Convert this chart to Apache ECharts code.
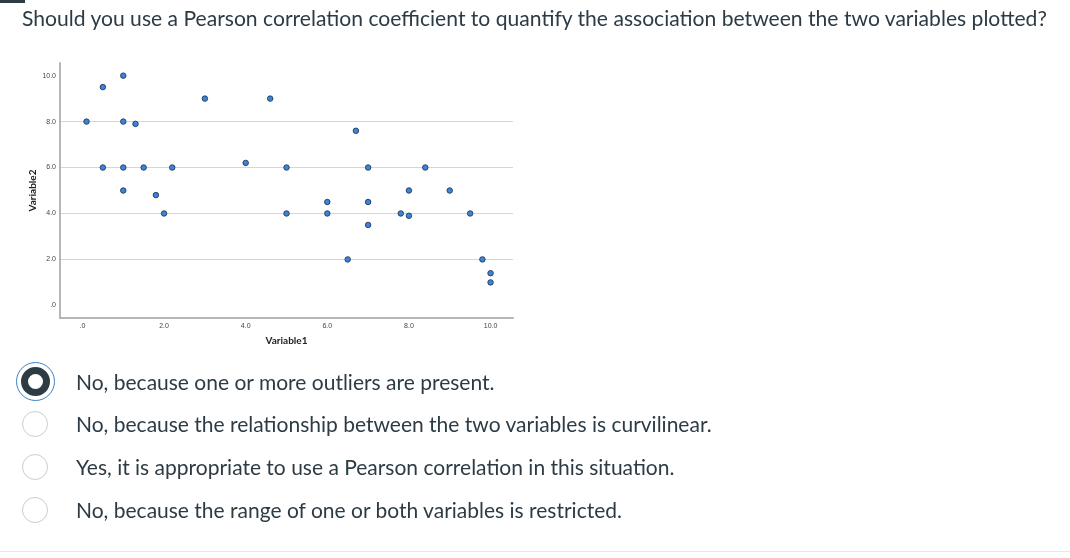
<!DOCTYPE html>
<html>
<head>
<meta charset="utf-8">
<script src="https://cdn.jsdelivr.net/npm/echarts@6/dist/echarts.min.js"></script>
<style>
  html, body { margin:0; padding:0; background:#fff; }
  body { width:1070px; height:558px; position:relative; overflow:hidden; font-family: Lato, "Noto Sans", sans-serif; color:#2d3b45; }
  #chart { position:absolute; left:0; top:0; width:1070px; height:558px; }
  .topbar { position:absolute; left:0; top:0; width:25px; height:3px; background:#2d3b45; }
  .question { position:absolute; left:22px; top:4px; font-size:21.1px; line-height:28px; white-space:nowrap; }
  .opt { position:absolute; left:76px; font-size:21px; line-height:26px; white-space:nowrap; }
  .radio { position:absolute; box-sizing:border-box; border-radius:50%; }
  .r-off { width:26px; height:26px; border:1px solid #c7cdd1; background:#fff; }
  .r-sel-outer { width:39px; height:39px; border:1.8px solid #3c82c2; background:#fff; }
  .r-sel-inner { width:29px; height:29px; border:7px solid #2d3b45; background:#fff; }
  .bottomline { position:absolute; left:0; top:551px; width:1070px; height:1px; background:#e6e9eb; }
</style>
</head>
<body>
<div id="chart"></div>
<div class="topbar"></div>
<div class="question">Should you use a Pearson correlation coefficient to quantify the association between the two variables plotted?</div>

<div class="radio r-sel-outer" style="left:15.5px; top:362px;"></div>
<div class="radio r-sel-inner" style="left:20.5px; top:367px;"></div>
<div class="radio r-off" style="left:22px; top:410.5px;"></div>
<div class="radio r-off" style="left:22px; top:453.5px;"></div>
<div class="radio r-off" style="left:22px; top:496.5px;"></div>

<div class="opt" style="top:368.5px;">No, because one or more outliers are present.</div>
<div class="opt" style="top:410.5px;">No, because the relationship between the two variables is curvilinear.</div>
<div class="opt" style="top:453.5px;">Yes, it is appropriate to use a Pearson correlation in this situation.</div>
<div class="opt" style="top:496.5px;">No, because the range of one or both variables is restricted.</div>
<div class="bottomline"></div>

<script>
// Data
const variable1 = [0.1, 0.5, 1.0, 1.0, 1.3, 0.5, 1.0, 1.5, 2.2, 1.0, 1.8, 2.0,
                   3.0, 4.0, 4.6, 5.0, 5.0, 6.7, 7.0, 8.4, 8.0, 9.0, 6.0, 7.0,
                   6.0, 7.8, 8.0, 9.5, 7.0, 6.5, 9.8, 10.0, 10.0];
const variable2 = [8.0, 9.5, 10.0, 8.0, 7.9, 6.0, 6.0, 6.0, 6.0, 5.0, 4.8, 4.0,
                   9.0, 6.2, 9.0, 6.0, 4.0, 7.6, 6.0, 6.0, 5.0, 5.0, 4.5, 4.5,
                   4.0, 4.0, 3.9, 4.0, 3.5, 2.0, 2.0, 1.4, 1.0];
const xTickValues = [0, 2, 4, 6, 8, 10];
const yTickValues = [0, 2, 4, 6, 8, 10];
const xAxisTitle = 'Variable1';
const yAxisTitle = 'Variable2';

const points = variable1.map((x, i) => [x, variable2[i]]);
const fmt = v => (v === 0 ? '.0' : v.toFixed(1));

const chart = echarts.init(document.getElementById('chart'), null, { renderer: 'canvas' });
chart.setOption({
  animation: false,
  grid: { left: 60, top: 63, width: 453, height: 255, containLabel: false },
  xAxis: {
    type: 'value', min: -0.55, max: 10.55,
    name: xAxisTitle, nameLocation: 'middle', nameGap: 18,
    nameTextStyle: { fontFamily: 'Lato', fontWeight: 'bold', fontSize: 10, color: '#222' },
    axisLine: { show: true, onZero: false, lineStyle: { color: '#b6b6b6', width: 2 } },
    axisTick: { show: false, customValues: xTickValues },
    splitLine: { show: false },
    axisLabel: { customValues: xTickValues, formatter: fmt, fontSize: 7, color: '#444', margin: 5, fontFamily: 'Liberation Sans' }
  },
  yAxis: {
    type: 'value', min: -0.55, max: 10.55,
    name: yAxisTitle, nameLocation: 'middle', nameGap: 22,
    nameTextStyle: { fontFamily: 'Lato', fontWeight: 'bold', fontSize: 10, color: '#222' },
    axisLine: { show: true, onZero: false, lineStyle: { color: '#b6b6b6', width: 2 } },
    axisTick: { show: false, customValues: yTickValues },
    splitLine: { show: true, showMinLine: false, showMaxLine: false, lineStyle: { color: '#d6d6d6', width: 1 } },
    axisLabel: { customValues: yTickValues, formatter: fmt, fontSize: 7, color: '#444', margin: 4, fontFamily: 'Liberation Sans' }
  },
  series: [{
    type: 'scatter',
    data: points,
    symbol: 'circle',
    symbolSize: 5.5,
    itemStyle: { color: '#3d83d6', borderColor: '#1d3a5e', borderWidth: 0.9, opacity: 1 }
  }]
});
</script>
</body>
</html>
